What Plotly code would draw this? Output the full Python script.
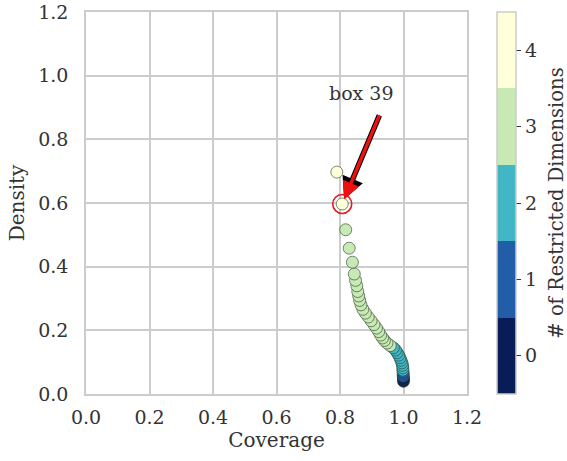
import plotly.graph_objects as go

# Data (ordered from box 0 upward)
coverage = [1.000, 1.000, 1.000, 0.999, 0.999, 0.999, 0.998, 0.998, 0.997, 0.995,
            0.992, 0.989, 0.985, 0.980, 0.975, 0.968, 0.958, 0.948, 0.940, 0.934,
            0.928, 0.922, 0.915, 0.907, 0.898, 0.889, 0.880, 0.872, 0.866, 0.862,
            0.859, 0.856, 0.853, 0.849, 0.845, 0.839, 0.829, 0.818, 0.807, 0.790]
density = [0.040, 0.045, 0.050, 0.056, 0.062, 0.068, 0.075, 0.082, 0.090, 0.098,
           0.106, 0.114, 0.122, 0.130, 0.138, 0.145, 0.152, 0.160, 0.168, 0.176,
           0.185, 0.196, 0.207, 0.218, 0.230, 0.242, 0.254, 0.266, 0.280, 0.294,
           0.308, 0.322, 0.340, 0.357, 0.377, 0.414, 0.458, 0.516, 0.597, 0.697]
n_restricted = [0, 0, 0, 1, 1, 1, 2, 2, 2, 2,
                2, 2, 2, 2, 2, 2, 3, 3, 3, 3,
                3, 3, 3, 3, 3, 3, 3, 3, 3, 3,
                3, 3, 3, 3, 3, 3, 3, 3, 4, 4]
box_index = 38  # position in arrays of highlighted box
box_label = "box 39"
cbar_ticks = [0, 1, 2, 3, 4]
palette = ["#081d58", "#225ea8", "#41b6c4", "#c7e9b4", "#ffffd9"]

# stepped colorscale
n = len(palette)
cs = []
for i, c in enumerate(palette):
    cs.append([i / n, c])
    cs.append([(i + 1) / n, c])

FONT = "DejaVu Serif"
TXT = "#333333"
GRID = "#cccccc"
NB = "\u00a0"

fig = go.Figure()
fig.add_trace(go.Scatter(
    x=coverage, y=density, mode="markers",
    marker=dict(size=12, color=n_restricted, colorscale=cs, cmin=-0.5, cmax=4.5,
                line=dict(color="#2a3a2a", width=0.6), opacity=1,
                colorbar=dict(
                    title=dict(text="# of Restricted Dimensions", side="right",
                               font=dict(family=FONT, size=19.5, color=TXT)),
                    tickvals=cbar_ticks, ticktext=[str(t) + NB for t in cbar_ticks],
                    ticks="outside", ticklen=5, tickcolor=TXT, tickwidth=1,
                    tickfont=dict(family=FONT, size=19, color=TXT),
                    thickness=19, len=1.0, lenmode="fraction", y=0.5, yanchor="middle",
                    x=1.079, xanchor="left", xpad=0, ypad=0,
                    outlinecolor=GRID, outlinewidth=1.5)),
    hoverinfo="skip", showlegend=False))

# highlight circle
fig.add_trace(go.Scatter(
    x=[coverage[box_index]], y=[density[box_index]], mode="markers",
    marker=dict(size=19, color="rgba(0,0,0,0)", line=dict(color="#e8191c", width=1.6)),
    hoverinfo="skip", showlegend=False))

bx, by = coverage[box_index], density[box_index]
# arrow: black outline under red
for col, w in (("black", 5.5), ("#ee1111", 3.5)):
    fig.add_annotation(x=bx, y=by, ax=0.926, ay=0.880, axref="x", ayref="y",
                       xref="x", yref="y", text="", showarrow=True,
                       arrowhead=2, arrowsize=1.0 if col == "#ee1111" else 0.8,
                       arrowwidth=w, arrowcolor=col, standoff=5)
fig.add_annotation(x=0.869, y=0.945, xref="x", yref="y", text=box_label, showarrow=False,
                   font=dict(family=FONT, size=19, color=TXT))

axis_common = dict(range=[0, 1.2], dtick=0.2, tick0=0, tickformat=".1f",
                   showgrid=True, gridcolor=GRID, gridwidth=1.5, zeroline=False,
                   showline=True, linecolor=GRID, linewidth=1.5, mirror=True,
                   automargin=False,
                   ticks="", tickfont=dict(family=FONT, size=19, color=TXT))
fig.update_xaxes(**axis_common, title=dict(text="Coverage", font=dict(family=FONT, size=20, color=TXT), standoff=6),
                 ticklabelstandoff=5)
fig.update_yaxes(**axis_common, title=dict(text="Density", font=dict(family=FONT, size=20, color=TXT), standoff=8),
                 ticklabelstandoff=12)

fig.update_layout(width=567, height=461, margin=dict(l=86, r=100, t=12, b=67, autoexpand=False),
                  plot_bgcolor="white", paper_bgcolor="white")

fig.write_html("out.html")
